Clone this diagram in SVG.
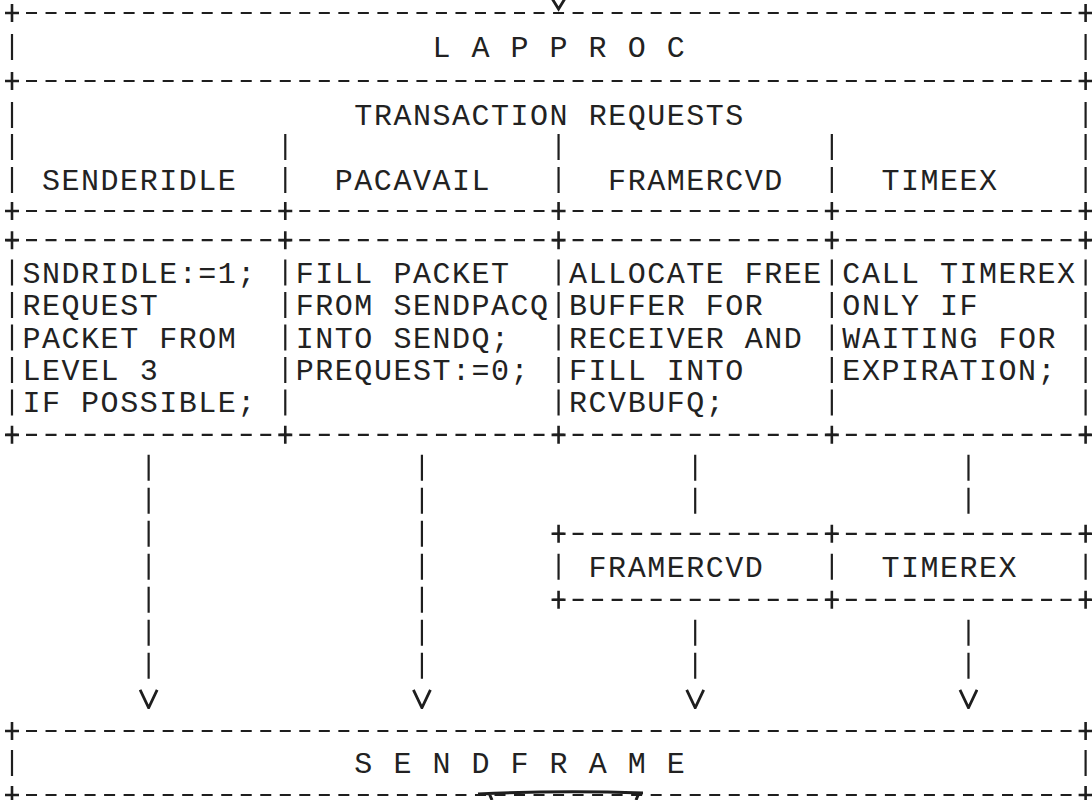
<svg xmlns="http://www.w3.org/2000/svg" xmlns:xlink="http://www.w3.org/1999/xlink" width="1092" height="800" viewBox="0 0 1092 800">
<style>
.ln{stroke:#1e1e1e;stroke-width:2.2;fill:none}
.hd{stroke-dasharray:11 8.52}
.vb{stroke-dasharray:26 6.45}
.pl{stroke:#1e1e1e;stroke-width:2.6;fill:none}
.t{font-family:"Liberation Mono","DejaVu Sans Mono",monospace;font-size:30px;letter-spacing:1.52px;fill:#222222}
.vh{stroke:#1e1e1e;stroke-width:2.8;fill:none;stroke-dasharray:none}
</style>
<defs>
<path id="plus" class="pl" d="M-7,0H7M0,-9V9"/>
<marker id="v" viewBox="0 -10 20 20" refX="19" refY="0" markerWidth="20" markerHeight="20" markerUnits="userSpaceOnUse" orient="auto">
<path class="vh" d="M1,-8.5L19,0L1,8.5"/>
</marker>
</defs>
<rect width="1092" height="800" fill="#ffffff"/>

<g id="lapproc">
<path class="ln hd" d="M6.5,13H1091.1M6.5,81H1091.1"/>
<path class="ln" d="M12,34V60M1085.6,34V60"/>
<use xlink:href="#plus" x="12" y="13"/><use xlink:href="#plus" x="1085.6" y="13"/>
<use xlink:href="#plus" x="12" y="81"/><use xlink:href="#plus" x="1085.6" y="81"/>
<text class="t" x="432.44" y="57">L A P P R O C</text>
</g>

<g id="transaction-requests">
<path class="ln hd" d="M6.5,211H1091.1"/>
<path class="ln" style="stroke-dasharray:26 6 26 7 26" d="M12,102V193M1085.6,102V193"/>
<path class="ln" style="stroke-dasharray:26 7 26" d="M285.28,134V193M558.56,134V193M831.84,134V193"/>
<use xlink:href="#plus" x="12" y="211"/><use xlink:href="#plus" x="285.28" y="211"/><use xlink:href="#plus" x="558.56" y="211"/><use xlink:href="#plus" x="831.84" y="211"/><use xlink:href="#plus" x="1085.6" y="211"/>
<text class="t" x="354.36" y="125">TRANSACTION REQUESTS</text>
<text class="t" x="42.04" y="190">SENDERIDLE</text>
<text class="t" x="334.84" y="190">PACAVAIL</text>
<text class="t" x="608.12" y="190">FRAMERCVD</text>
<text class="t" x="881.4" y="190">TIMEEX</text>
</g>

<g id="actions">
<path class="ln hd" d="M6.5,240.15H1091.1M6.5,434.85H1091.1"/>
<path class="ln vb" d="M12,259.6V415.4M285.28,259.6V415.4M558.56,259.6V415.4M831.84,259.6V415.4M1085.6,259.6V415.4"/>
<use xlink:href="#plus" x="12" y="240.15"/><use xlink:href="#plus" x="285.28" y="240.15"/><use xlink:href="#plus" x="558.56" y="240.15"/><use xlink:href="#plus" x="831.84" y="240.15"/><use xlink:href="#plus" x="1085.6" y="240.15"/>
<use xlink:href="#plus" x="12" y="434.85"/><use xlink:href="#plus" x="285.28" y="434.85"/><use xlink:href="#plus" x="558.56" y="434.85"/><use xlink:href="#plus" x="831.84" y="434.85"/><use xlink:href="#plus" x="1085.6" y="434.85"/>
<g id="act-senderidle">
<text class="t" x="22.52" y="282.6">SNDRIDLE:=1;</text>
<text class="t" x="22.52" y="315.05">REQUEST</text>
<text class="t" x="22.52" y="347.5">PACKET FROM</text>
<text class="t" x="22.52" y="379.95">LEVEL 3</text>
<text class="t" x="22.52" y="412.4">IF POSSIBLE;</text>
</g>
<g id="act-pacavail">
<text class="t" x="295.8" y="282.6">FILL PACKET</text>
<text class="t" x="295.8" y="315.05">FROM SENDPACQ</text>
<text class="t" x="295.8" y="347.5">INTO SENDQ;</text>
<text class="t" x="295.8" y="379.95">PREQUEST:=0;</text>
</g>
<g id="act-framercvd">
<text class="t" x="569.08" y="282.6">ALLOCATE FREE</text>
<text class="t" x="569.08" y="315.05">BUFFER FOR</text>
<text class="t" x="569.08" y="347.5">RECEIVER AND</text>
<text class="t" x="569.08" y="379.95">FILL INTO</text>
<text class="t" x="569.08" y="412.4">RCVBUFQ;</text>
</g>
<g id="act-timeex">
<text class="t" x="842.36" y="282.6">CALL TIMEREX</text>
<text class="t" x="842.36" y="315.05">ONLY IF</text>
<text class="t" x="842.36" y="347.5">WAITING FOR</text>
<text class="t" x="842.36" y="379.95">EXPIRATION;</text>
</g>
</g>

<g id="sub-calls">
<path class="ln hd" d="M553.06,533.8H1091.1M553.06,599.8H1091.1"/>
<path class="ln" d="M558.56,553.8V579.8M831.84,553.8V579.8M1085.6,553.8V579.8"/>
<use xlink:href="#plus" x="558.56" y="533.8"/><use xlink:href="#plus" x="831.84" y="533.8"/><use xlink:href="#plus" x="1085.6" y="533.8"/>
<use xlink:href="#plus" x="558.56" y="599.8"/><use xlink:href="#plus" x="831.84" y="599.8"/><use xlink:href="#plus" x="1085.6" y="599.8"/>
<g id="call-framercvd"><text class="t" x="588.6" y="576.8">FRAMERCVD</text></g>
<g id="call-timerex"><text class="t" x="881.4" y="576.8">TIMEREX</text></g>
</g>

<g id="sendframe">
<path class="ln hd" d="M6.5,731H1091.1M6.5,795H1091.1"/>
<path class="ln" d="M12,750V776M1085.6,750V776"/>
<use xlink:href="#plus" x="12" y="731"/><use xlink:href="#plus" x="1085.6" y="731"/>
<use xlink:href="#plus" x="12" y="795"/><use xlink:href="#plus" x="1085.6" y="795"/>
<text class="t" x="354.36" y="773">S E N D F R A M E</text>
</g>

<g id="connectors">
<path class="vh" d="M548,-8L558.56,9L569,-8"/>
<path class="ln" style="stroke-dasharray:26 7 26 7 26 7 26 7 26 7 26 7 26 40" marker-end="url(#v)" d="M148.64,454.8V707.8"/>
<path class="ln" style="stroke-dasharray:26 7 26 7 26 7 26 7 26 7 26 7 26 40" marker-end="url(#v)" d="M421.92,454.8V707.8"/>
<path class="ln" style="stroke-dasharray:26 7 26 40" d="M695.2,454.8V533.8"/>
<path class="ln" style="stroke-dasharray:26 7 26 40" d="M968.48,454.8V533.8"/>
<path class="ln" style="stroke-dasharray:26 7 26 40" marker-end="url(#v)" d="M695.2,619.8V707.8"/>
<path class="ln" style="stroke-dasharray:26 7 26 40" marker-end="url(#v)" d="M968.48,619.8V707.8"/>
<path class="vh" style="stroke-width:3" d="M478,794Q560,790 643,793M489,793L492,800M639,793L636,800"/>
</g>
</svg>
